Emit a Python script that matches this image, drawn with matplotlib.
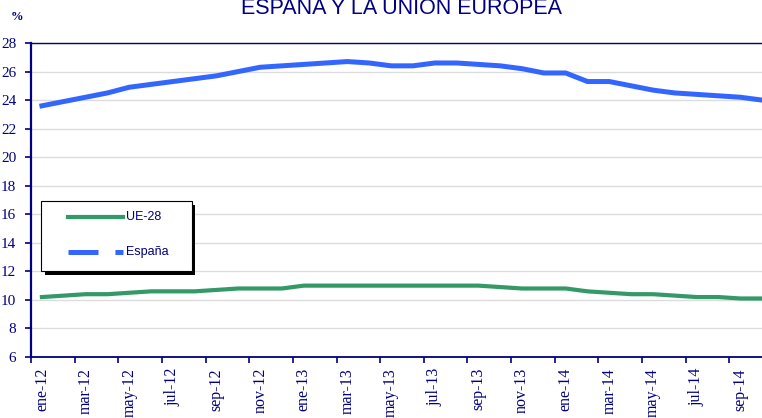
''' paro.py '''

import matplotlib
matplotlib.use('Agg')
import matplotlib.pyplot as plt
from matplotlib.lines import Line2D
from matplotlib.patches import Rectangle

# chart data, monthly from ene-12 to oct-14 (%)
meses = ['ene', 'feb', 'mar', 'abr', 'may', 'jun', 'jul', 'ago', 'sep', 'oct', 'nov', 'dic']
anios = ['12', '13', '14']
ue28 = [10.2, 10.3, 10.4, 10.4, 10.5, 10.6, 10.6, 10.6, 10.7, 10.8, 10.8, 10.8,
        11.0, 11.0, 11.0, 11.0, 11.0, 11.0, 11.0, 11.0, 11.0, 10.9, 10.8, 10.8,
        10.8, 10.6, 10.5, 10.4, 10.4, 10.3, 10.2, 10.2, 10.1, 10.1]
espana = [23.6, 23.9, 24.2, 24.5, 24.9, 25.1, 25.3, 25.5, 25.7, 26.0, 26.3, 26.4,
          26.5, 26.6, 26.7, 26.6, 26.4, 26.4, 26.6, 26.6, 26.5, 26.4, 26.2, 25.9,
          25.9, 25.3, 25.3, 25.0, 24.7, 24.5, 24.4, 24.3, 24.2, 24.0]
series_names = ['UE-28', 'España']
yticks = [6, 8, 10, 12, 14, 16, 18, 20, 22, 24, 26, 28]

# figure is 762x418 px at dpi 100
W, H = 762, 418
navy = '#000080'
green = '#339966'
blue = '#3366FF'

plt.rcParams['lines.scale_dashes'] = False

def fx(x):
	return x / W

def fy(y):
	return 1 - y / H

labels = [m + '-' + a for a in anios for m in meses][:len(espana)]
xs = list(range(len(espana)))

fig = plt.figure(figsize=(W / 100, H / 100), dpi=100)
ax = fig.add_axes([fx(31), fy(357), (773 - 31) / W, (357 - 43) / H])

ax.plot(xs, ue28, color=green, lw=3.0, solid_joinstyle='round', zorder=3)
ax.plot(xs, espana, color=blue, lw=3.6, solid_joinstyle='round', zorder=3)

ax.set_xlim(-0.5, len(xs) - 0.5)
ax.set_ylim(6, 28)
ax.set_yticks(yticks)
ax.grid(axis='y', color='#dcdcdc', lw=1.0)
ax.set_axisbelow(True)

# labels at category centres, tick marks at category boundaries
ax.set_xticks(xs[::2])
ax.set_xticklabels(labels[::2], rotation=90, family='Liberation Serif', fontsize=11.5, color=navy)
ax.set_xticks([x - 0.5 for x in xs[::2]], minor=True)
ax.tick_params(axis='x', which='major', length=0, pad=8)
ax.tick_params(axis='x', which='minor', length=4, width=1.2, color=navy, direction='out')
ax.tick_params(axis='y', length=4, width=1.2, color=navy, pad=6.5, labelsize=11, labelcolor=navy)
for t in ax.get_yticklabels():
	t.set_family('Liberation Serif')

for side in ['left', 'bottom', 'top', 'right']:
	ax.spines[side].set_color(navy)
ax.spines['left'].set_linewidth(1.6)
ax.spines['bottom'].set_linewidth(1.3)
ax.spines['top'].set_linewidth(1.0)

# title (top line falls outside the picture) and unit
fig.text(fx(402), fy(14), 'ESPAÑA Y LA UNIÓN EUROPEA', ha='center', va='baseline',
	family='Liberation Sans', fontsize=15.5, color=navy)
fig.text(fx(16.5), fy(16.5), '%', ha='center', va='center', family='Liberation Serif',
	fontsize=9, fontweight='bold', color=navy)

# legend box with hard black shadow
fig.add_artist(Rectangle((fx(45), fy(275)), (195 - 45) / W, (275 - 205) / H,
	transform=fig.transFigure, facecolor='black', edgecolor='black', lw=0, zorder=5))
fig.add_artist(Rectangle((fx(41), fy(271)), (192 - 41) / W, (271 - 201) / H,
	transform=fig.transFigure, facecolor='white', edgecolor='black', lw=0.8, zorder=6))
fig.add_artist(Line2D([fx(68), fx(123)], [fy(216.7), fy(216.7)], transform=fig.transFigure,
	color=green, lw=3.0, zorder=7))
fig.add_artist(Line2D([fx(68), fx(123)], [fy(251.7), fy(251.7)], transform=fig.transFigure,
	color=blue, lw=3.6, dashes=(21.6, 12.2), dash_capstyle='butt', zorder=7))
fig.text(fx(126), fy(217), series_names[0], ha='left', va='center', family='Liberation Sans',
	fontsize=9, color=navy, zorder=7)
fig.text(fx(126), fy(252), series_names[1], ha='left', va='center', family='Liberation Sans',
	fontsize=9, color=navy, zorder=7)

fig.savefig('out.png', dpi=100)
